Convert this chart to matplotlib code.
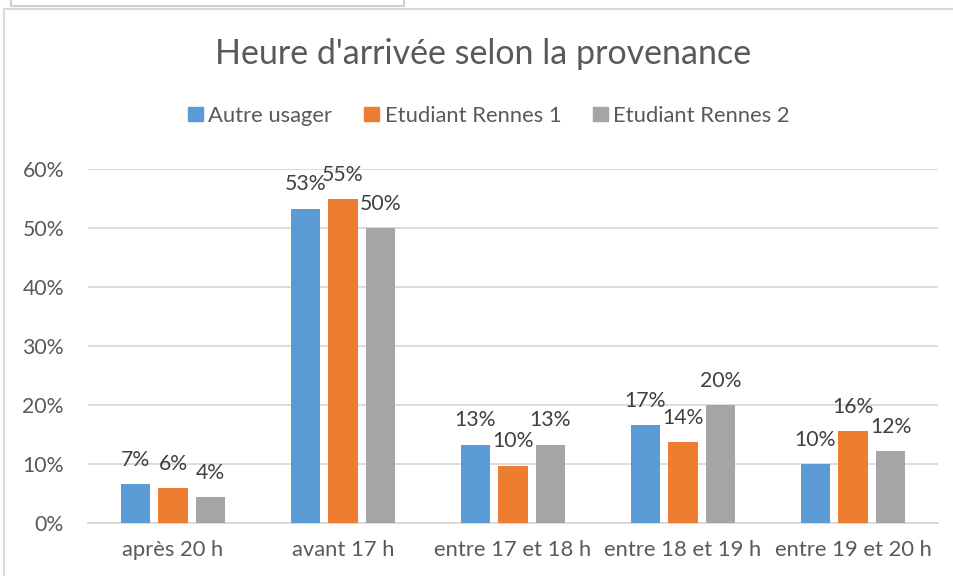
import numpy as np
import matplotlib
matplotlib.use("Agg")
import matplotlib.pyplot as plt
from matplotlib.lines import Line2D
from matplotlib.patches import Patch

plt.rcParams.update({"font.family": ["Lato", "DejaVu Sans"], "text.color": "#595959"})

categories = ["après 20 h", "avant 17 h", "entre 17 et 18 h", "entre 18 et 19 h", "entre 19 et 20 h"]
series = ["Autre usager", "Etudiant Rennes 1", "Etudiant Rennes 2"]
autre = [0.066, 0.533, 0.133, 0.166, 0.100]
rennes1 = [0.059, 0.549, 0.097, 0.137, 0.156]
rennes2 = [0.044, 0.500, 0.133, 0.200, 0.122]
yticks = [0, 0.1, 0.2, 0.3, 0.4, 0.5, 0.6]
colors = ["#5B9BD5", "#ED7D31", "#A5A5A5"]

W, H = 954, 576
fig = plt.figure(figsize=(W / 100, H / 100), dpi=100)
ax = fig.add_axes([88 / W, 1 - 523 / H, 850 / W, 354 / H])

x = np.arange(len(categories))
step, w = 0.2206, 0.1735
for i, (vals, col) in enumerate(zip([autre, rennes1, rennes2], colors)):
    xs = x + (i - 1) * step
    ax.bar(xs, vals, w, color=col, zorder=3)
    for xi, v in zip(xs, vals):
        ax.annotate(f"{v * 100:.0f}%", (xi, v), xytext=(0, 17.5), textcoords="offset points",
                    ha="center", va="center", fontsize=15.3, color="#404040")

ax.set_xlim(-0.5, len(categories) - 0.5)
ax.set_ylim(0, 0.6)
ax.set_yticks(yticks)
ax.set_yticklabels([f"{t * 100:.0f}%" for t in yticks])
ax.set_xticks(x)
ax.set_xticklabels(categories)
ax.tick_params(axis="y", length=0, pad=17.3, labelsize=15.3, labelcolor="#595959")
ax.tick_params(axis="x", length=0, pad=12, labelsize=15.8, labelcolor="#595959")
ax.grid(axis="y", color="#d9d9d9", lw=1.3, zorder=0)
for s in ["top", "right", "left"]:
    ax.spines[s].set_visible(False)
ax.spines["bottom"].set_color("#d9d9d9")
ax.spines["bottom"].set_linewidth(1.3)

fig.text(483 / W, 1 - 64 / H, "Heure d'arrivée selon la provenance", ha="center", va="baseline",
         fontsize=24.5, color="#595959")

handles = [Patch(color=c) for c in colors]
fig.legend(handles, series, loc="center", bbox_to_anchor=(489 / W, 1 - 116 / H), ncol=3,
           frameon=False, fontsize=15.8, handlelength=0.68, handleheight=0.62,
           handletextpad=0.25, columnspacing=1.45, labelcolor="#595959")

# chart frame and the box above it
fig.add_artist(Line2D([4.5 / W, 4.5 / W], [0, 1 - 8.5 / H], transform=fig.transFigure, color="#d9d9d9", lw=1.5))
fig.add_artist(Line2D([4.5 / W, 1], [1 - 8.5 / H, 1 - 8.5 / H], transform=fig.transFigure, color="#d9d9d9", lw=1.5))
fig.add_artist(Line2D([11 / W, 11 / W, 404 / W, 404 / W], [1, 1 - 6 / H, 1 - 6 / H, 1],
                      transform=fig.transFigure, color="#d0d0d0", lw=1.5))

fig.savefig("out.png", dpi=100)
